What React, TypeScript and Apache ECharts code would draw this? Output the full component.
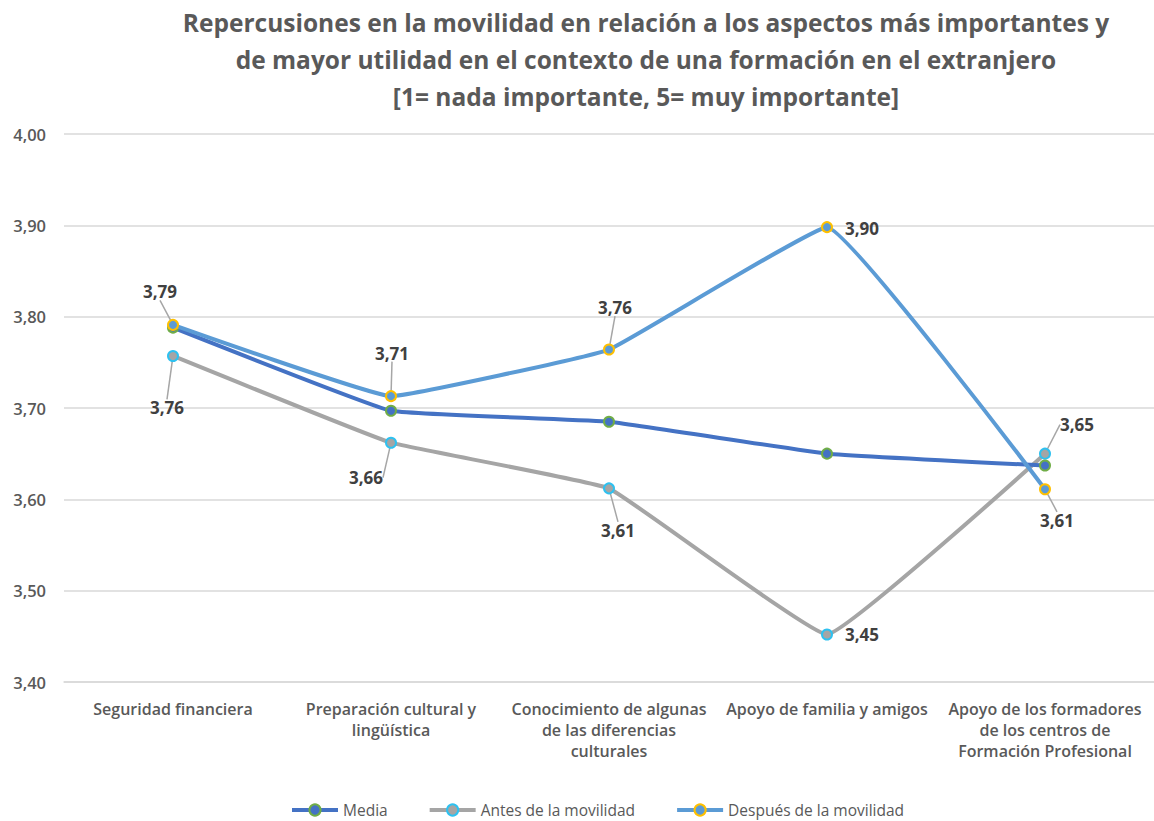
import React, { useEffect, useRef } from "react";
import * as echarts from "echarts";

const categories = [
  "Seguridad financiera",
  "Preparación cultural y\nlingüística",
  "Conocimiento de algunas\nde las diferencias\nculturales",
  "Apoyo de familia y amigos",
  "Apoyo de los formadores\nde los centros de\nFormación Profesional",
];
const media = [3.788, 3.697, 3.685, 3.65, 3.637];
const antes = [3.757, 3.662, 3.612, 3.452, 3.65];
const despues = [3.791, 3.713, 3.764, 3.898, 3.611];
const yTicks = { min: 3.4, max: 4.0, interval: 0.1 };
const seriesNames = ["Media", "Antes de la movilidad", "Después de la movilidad"];
const titleLines = [
  "Repercusiones en la movilidad en relación a los aspectos más importantes y",
  "de mayor utilidad en el contexto de una formación en el extranjero",
  "[1= nada importante, 5= muy importante]",
];

// label offsets (relative to point), by series index
const labelOffsets: Record<number, [number, number][]> = {
  1: [[-6, 52], [-25, 35], [9, 42], [35, 0], [32, -29]],
  2: [[-13, -33], [1, -43], [6, -42], [35, 1], [12, 31]],
};
const noLine: Record<number, number[]> = { 1: [3], 2: [3] };

const FONT = "'Open Sans', 'Noto Sans', sans-serif";
const fmt = (v: number) => v.toFixed(2).replace(".", ",");

export default function App() {
  const ref = useRef<HTMLDivElement>(null);
  useEffect(() => {
    document.body.style.margin = "0";
    const chart = echarts.init(ref.current!, null, { renderer: "svg" });
    const mkData = (vals: number[], si: number) =>
      vals.map((v, i) => ({
        value: v,
        labelLine: { show: !(noLine[si] || []).includes(i) },
      }));
    const labelCfg = {
      show: true,
      position: "inside",
      formatter: (p: any) => fmt(p.value),
      fontFamily: FONT,
      fontSize: 17,
      fontWeight: "bold",
      color: "#404040",
    };
    const labelLineCfg = {
      show: true,
      lineStyle: { color: "#a6a6a6", width: 1.5 },
    };
    const smooth = 0.08;
    chart.setOption({
      animation: false,
      textStyle: { fontFamily: FONT },
      graphic: titleLines.map((t, i) => ({
        type: "text",
        x: 646,
        y: 22 + i * 37,
        style: {
          text: t,
          fontFamily: FONT,
          fontSize: 24.5,
          fontWeight: "bold",
          fill: "#595959",
          align: "center",
          verticalAlign: "middle",
        },
      })),
      grid: { left: 64, right: 0, top: 134, bottom: 139, containLabel: false },
      legend: {
        left: 285,
        top: 795,
        itemWidth: 46,
        itemHeight: 14,
        itemGap: 40,
        lineStyle: { width: 4 },
        textStyle: { fontFamily: FONT, fontSize: 15.5, color: "#595959", lineHeight: 20 },
        data: seriesNames,
      },
      xAxis: {
        type: "category",
        data: categories,
        boundaryGap: true,
        axisLine: { show: true, lineStyle: { color: "#d9d9d9", width: 1.5 } },
        axisTick: { show: false },
        axisLabel: {
          interval: 0,
          margin: 16,
          fontFamily: FONT,
          fontSize: 16,
          fontWeight: 600,
          color: "#595959",
          lineHeight: 21,
        },
      },
      yAxis: {
        type: "value",
        min: yTicks.min,
        max: yTicks.max,
        interval: yTicks.interval,
        axisLine: { show: false },
        axisTick: { show: false },
        splitLine: { lineStyle: { color: "#d9d9d9", width: 1.5 } },
        axisLabel: {
          margin: 18,
          formatter: (v: number) => fmt(v),
          fontFamily: FONT,
          fontSize: 16.5,
          fontWeight: 600,
          color: "#595959",
        },
      },
      labelLayout: (params: any) => {
        const offs = labelOffsets[params.seriesIndex];
        if (!offs) return {};
        const o = offs[params.dataIndex];
        return { dx: o[0], dy: o[1] };
      },
      series: [
        {
          name: seriesNames[0],
          type: "line",
          data: media,
          smooth,
          symbol: "circle",
          symbolSize: 10,
          lineStyle: { color: "#4472C4", width: 4 },
          itemStyle: { color: "#4472C4", borderColor: "#70AD47", borderWidth: 2 },
          z: 3,
        },
        {
          name: seriesNames[1],
          type: "line",
          data: mkData(antes, 1),
          smooth,
          symbol: "circle",
          symbolSize: 10,
          lineStyle: { color: "#A5A5A5", width: 4 },
          itemStyle: { color: "#A5A5A5", borderColor: "#2EC1F0", borderWidth: 2 },
          label: labelCfg,
          labelLine: labelLineCfg,
          z: 2,
        },
        {
          name: seriesNames[2],
          type: "line",
          data: mkData(despues, 2),
          smooth,
          symbol: "circle",
          symbolSize: 10,
          lineStyle: { color: "#5B9BD5", width: 4 },
          itemStyle: { color: "#5B9BD5", borderColor: "#FFC000", borderWidth: 2 },
          label: labelCfg,
          labelLine: labelLineCfg,
          z: 4,
        },
      ],
    });
    return () => chart.dispose();
  }, []);
  return <div ref={ref} style={{ width: 1154, height: 821 }} />;
}
